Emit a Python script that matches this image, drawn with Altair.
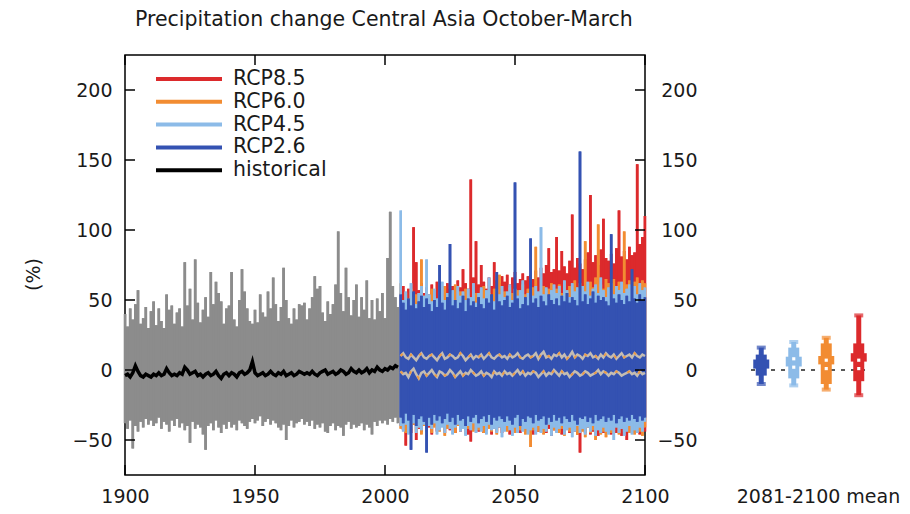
import altair as alt
import pandas as pd

FONT = "DejaVu Sans"
TXT = "#1a1a1a"

title_text = "Precipitation change Central Asia October-March"
y_title = "(%)"
side_title = "2081-2100 mean"

x_ticks = [1900, 1950, 2000, 2050, 2100]
y_ticks = [-50, 0, 50, 100, 150, 200]

# ---------------- historical ensemble (1900-2005) ----------------
hist_years = list(range(1900, 2006))
hist_hi = [40, 31, 44, 36, 47, 57, 33, 37, 45, 30,
           42, 49, 32, 44, 35, 30, 54, 43, 46, 33,
           41, 44, 31, 77, 46, 58, 36, 79, 48, 34,
           43, 52, 38, 70, 47, 63, 55, 49, 33, 44,
           46, 70, 36, 31, 50, 72, 56, 44, 35, 33,
           43, 34, 54, 41, 38, 56, 44, 66, 47, 35,
           45, 73, 50, 37, 33, 44, 36, 47, 46, 48,
           36, 44, 52, 67, 58, 60, 41, 35, 49, 40,
           47, 61, 99, 55, 42, 73, 52, 39, 50, 61,
           38, 52, 43, 64, 37, 50, 36, 51, 42, 55,
           37, 80, 113, 60, 52, 45]
hist_lo = [-38, -42, -36, -56, -40, -44, -37, -41, -35, -39,
           -36, -40, -38, -34, -42, -37, -39, -44, -36, -40,
           -35, -41, -38, -43, -40, -52, -37, -42, -39, -41,
           -46, -57, -40, -38, -43, -36, -41, -45, -39, -42,
           -37, -41, -39, -43, -36, -38, -40, -42, -37, -35,
           -38, -36, -33, -40, -37, -35, -39, -36, -38, -41,
           -43, -39, -50, -40, -36, -41, -38, -37, -35, -39,
           -37, -40, -36, -42, -39, -41, -38, -44, -45, -40,
           -38, -43, -40, -41, -47, -39, -37, -42, -39, -41,
           -40, -38, -43, -39, -41, -46, -37, -40, -36, -38,
           -36, -39, -35, -37, -34, -38]
hist_mean = [-4, -3, -5, -2, 3, -1, -4, -5, -3, -4,
             -5, -3, -4, -2, -4, -3, 1, -2, -4, -3,
             -4, -2, -3, 2, 0, -3, -2, -1, -4, -3,
             -5, -3, -2, -4, -3, -1, -4, -6, -3, -2,
             -4, -2, -3, -5, -2, -1, -3, -2, 0, 6,
             -2, -4, -3, -2, -4, -3, -1, -3, -4, -2,
             -3, -1, -4, -3, -2, -4, -3, -1, -2, -3,
             -2, -3, -1, -3, -4, -2, -1, 0, -3, -2,
             -1, -3, -2, 0, -1, -3, -2, 1, -1, -2,
             0, -2, -1, 1, -2, 0, -1, 2, 0, -1,
             1, 0, 2, 1, 3, 2]

# ---------------- scenario ensembles (2006-2100) ----------------
fut_years = list(range(2006, 2101))
rcp85_hi = [55, 60, 52, 58, 54, 102, 77, 57, 62, 55,
            59, 54, 61, 57, 63, 56, 60, 55, 62, 58,
            60, 57, 64, 59, 72, 62, 58, 136, 66, 92,
            61, 75, 63, 58, 66, 60, 77, 64, 62, 67,
            63, 68, 61, 66, 70, 62, 65, 69, 64, 67,
            68, 65, 71, 66, 73, 69, 75, 87, 70, 72,
            95, 71, 85, 74, 69, 78, 111, 73, 80, 76,
            72, 79, 84, 125, 77, 82, 75, 86, 108, 80,
            78, 83, 76, 87, 114, 81, 85, 79, 88, 82,
            84, 147, 90, 95, 110]
rcp85_lo = [-40, -43, -54, -41, -45, -39, -50, -42, -44, -40,
            -43, -41, -46, -40, -44, -42, -39, -45, -41, -43,
            -42, -45, -40, -44, -41, -43, -46, -51, -42, -40,
            -44, -41, -45, -43, -40, -46, -42, -44, -41, -45,
            -43, -40, -46, -42, -44, -41, -45, -43, -40, -44,
            -42, -46, -41, -44, -43, -40, -45, -42, -47, -43,
            -44, -41, -46, -43, -42, -45, -40, -44, -46, -59,
            -43, -45, -41, -46, -44, -42, -47, -43, -45, -41,
            -44, -46, -42, -45, -43, -47, -41, -50, -44, -42,
            -45, -43, -46, -42, -44]
rcp60_hi = [62, 48, 55, 51, 58, 50, 54, 49, 79, 53,
            56, 50, 58, 53, 49, 57, 52, 60, 51, 55,
            54, 61, 50, 56, 52, 58, 53, 49, 57, 55,
            52, 57, 60, 51, 55, 53, 58, 50, 68, 54,
            56, 52, 59, 55, 50, 57, 53, 61, 54, 58,
            55, 59, 88, 53, 57, 60, 54, 58, 62, 56,
            58, 61, 55, 63, 57, 60, 56, 64, 59, 62,
            60, 92, 57, 63, 59, 66, 104, 61, 58, 65,
            62, 59, 65, 60, 63, 58, 99, 61, 64, 60,
            63, 66, 60, 64, 62]
rcp60_lo = [-42, -38, -45, -40, -43, -39, -44, -41, -46, -40,
            -43, -39, -45, -41, -38, -44, -40, -47, -42, -39,
            -41, -45, -40, -43, -38, -46, -42, -39, -44, -41,
            -43, -40, -45, -38, -42, -44, -41, -46, -39, -43,
            -40, -44, -42, -38, -45, -41, -43, -40, -46, -42,
            -55, -43, -40, -44, -41, -46, -42, -39, -45, -43,
            -41, -45, -42, -47, -40, -44, -43, -41, -46, -42,
            -44, -48, -41, -45, -43, -50, -42, -46, -44, -48,
            -41, -45, -43, -40, -46, -42, -44, -41, -45, -43,
            -46, -42, -44, -47, -41]
rcp45_hi = [114, 50, 56, 48, 62, 52, 47, 55, 60, 53,
            79, 54, 49, 58, 51, 56, 63, 50, 55, 52,
            57, 49, 60, 53, 56, 50, 58, 52, 62, 48,
            55, 59, 51, 57, 66, 53, 49, 58, 54, 60,
            52, 56, 61, 50, 58, 53, 57, 64, 51, 55,
            58, 53, 60, 56, 102, 54, 59, 52, 57, 61,
            55, 60, 53, 64, 57, 52, 62, 56, 59, 54,
            60, 56, 63, 53, 58, 61, 55, 66, 57, 52,
            59, 62, 54, 60, 57, 63, 55, 58, 61, 56,
            60, 54, 62, 57, 59]
rcp45_lo = [-40, -44, -39, -46, -42, -38, -45, -41, -43, -39,
            -44, -40, -42, -38, -46, -43, -41, -45, -39, -42,
            -46, -41, -39, -44, -42, -47, -40, -43, -38, -45,
            -41, -44, -40, -46, -39, -43, -42, -45, -41, -48,
            -44, -40, -43, -47, -41, -45, -39, -44, -42, -46,
            -43, -41, -46, -40, -45, -42, -44, -39, -47, -41,
            -45, -42, -40, -46, -43, -41, -48, -44, -40, -45,
            -42, -46, -41, -44, -40, -47, -43, -45, -41, -44,
            -46, -43, -50, -41, -45, -42, -47, -44, -40, -46,
            -43, -45, -41, -44, -37]
rcp26_hi = [54, 48, 43, 51, 46, 56, 44, 49, 53, 45,
            51, 47, 42, 50, 45, 75, 48, 43, 52, 90,
            46, 50, 44, 48, 53, 42, 51, 46, 49, 45,
            52, 47, 44, 51, 48, 54, 43, 70, 49, 46,
            50, 53, 45, 48, 134, 51, 44, 47, 52, 46,
            94, 48, 51, 45, 53, 49, 46, 54, 50, 47,
            51, 46, 53, 49, 55, 48, 52, 50, 46, 156,
            49, 54, 47, 51, 56, 48, 53, 50, 52, 49,
            46, 97, 51, 48, 54, 50, 47, 53, 49, 72,
            51, 48, 54, 50, 52]
rcp26_lo = [-34, -38, -31, -36, -57, -32, -40, -35, -33, -37,
            -59, -34, -39, -32, -36, -33, -38, -35, -31, -37,
            -34, -39, -32, -36, -35, -40, -33, -37, -34, -32,
            -38, -35, -33, -37, -32, -39, -34, -36, -33, -35,
            -37, -33, -36, -39, -34, -32, -40, -35, -37, -33,
            -34, -38, -32, -36, -35, -33, -39, -34, -37, -32,
            -36, -34, -38, -33, -35, -37, -32, -36, -39, -34,
            -35, -33, -37, -34, -38, -32, -36, -35, -33, -37,
            -34, -36, -32, -38, -35, -33, -37, -34, -36, -32,
            -35, -37, -33, -36, -34]
mean_upper = [10, 12, 9, 8, 11, 9, 7, 10, 12, 9,
              8, 10, 11, 9, 7, 10, 12, 8, 9, 11,
              10, 8, 9, 12, 10, 7, 9, 11, 8, 10,
              9, 11, 8, 10, 12, 9, 8, 10, 11, 9,
              10, 8, 11, 9, 10, 12, 9, 8, 10, 11,
              9, 10, 12, 8, 11, 13, 9, 10, 8, 11,
              10, 12, 9, 11, 8, 10, 13, 9, 11, 10,
              8, 11, 10, 12, 9, 10, 8, 11, 9, 12,
              10, 9, 11, 8, 10, 12, 9, 10, 11, 9,
              12, 10, 9, 11, 10]
mean_lower = [-1, -3, -2, -5, -1, 1, -3, -6, -2, -1,
              -4, -2, 0, -3, -5, -1, -2, -4, -3, 0,
              -2, -5, -3, -1, -4, -2, -3, 0, -2, -4,
              -3, -1, -4, -2, -3, -5, -1, -3, -2, -4,
              -1, -3, -2, -4, -2, 0, -3, -1, -4, -2,
              -3, -1, -2, -5, -3, -1, -4, -2, -3, 0,
              -2, -4, -1, -3, -2, -5, -3, -1, -2, -4,
              -3, -1, -2, -4, -3, -2, 0, -3, -1, -2,
              -4, -2, -3, -1, -2, -4, -3, -2, -1, -3,
              -2, -4, -1, -3, -2]

scenarios = ["RCP8.5", "RCP6.0", "RCP4.5", "RCP2.6", "historical"]
scen_colors = ["#dc2a2c", "#f28c32", "#8cbbe8", "#3452b2", "#000000"]
hist_gray = "#8c8c8c"

# ---------------- 2081-2100 mean boxes ----------------
box_scen = ["RCP2.6", "RCP4.5", "RCP6.0", "RCP8.5"]
box_colors = ["#2d4a9e", "#7fb0e0", "#f08a24", "#e3202a"]
whisk_lo = [-10, -11, -14, -18]
whisk_hi = [16, 20, 23, 39]
box_lo = [-4, -6, -10, -8]
box_hi = [11, 16, 19, 19]
wide_lo = [1, 2.5, 4, 6]
wide_hi = [7.5, 9.5, 10, 12]
dot_scen = ["RCP4.5", "RCP4.5", "RCP6.0", "RCP6.0", "RCP8.5", "RCP8.5"]
dot_val = [8, 2, 7, 1, 7, 1]

# ---------------- data frames ----------------
hist_df = pd.DataFrame({"year": hist_years, "hi": hist_hi, "lo": hist_lo,
                        "mean": hist_mean, "scenario": "historical"})


def fut_df(name, hi, lo):
    return pd.DataFrame({"year": fut_years, "hi": hi, "lo": lo, "scenario": name})


fut = [fut_df("RCP8.5", rcp85_hi, rcp85_lo), fut_df("RCP6.0", rcp60_hi, rcp60_lo),
       fut_df("RCP4.5", rcp45_hi, rcp45_lo), fut_df("RCP2.6", rcp26_hi, rcp26_lo)]
mean_df = pd.DataFrame({"year": fut_years + fut_years,
                        "val": mean_upper + mean_lower,
                        "which": ["upper"] * len(fut_years) + ["lower"] * len(fut_years)})

W, H = 520, 420
SW = 2.6
x_scale = alt.Scale(domain=[1900, 2100], nice=False, zero=False)
y_scale = alt.Scale(domain=[-75, 225], nice=False, zero=False)
color_scale = alt.Scale(domain=scenarios, range=scen_colors)

legend = alt.Legend(orient="none", legendX=29, legendY=14, symbolType="stroke",
                    symbolSize=4356, symbolStrokeWidth=4, clipHeight=20,
                    labelFont=FONT, labelFontSize=20.5, labelOffset=9,
                    labelColor=TXT, rowPadding=1.8, padding=0, title=None)

x_axis = alt.Axis(values=x_ticks, format="d", labelFont=FONT, labelFontSize=19,
                  labelColor=TXT, labelPadding=12, labelFlush=False, ticks=False,
                  tickSize=0, domain=False, grid=False, title=None)
y_axis = alt.Axis(values=y_ticks, labelFont=FONT, labelFontSize=19, labelColor=TXT,
                  labelPadding=13, ticks=False, tickSize=0, domain=False, grid=False,
                  title=y_title, titleFont=FONT, titleFontSize=19, titleFontWeight="normal",
                  titleColor=TXT, titleAngle=270, titleX=-92, titleY=219,
                  titleAlign="center", titleBaseline="middle")


def XQ(field):
    return alt.X(field, scale=x_scale, axis=x_axis, title=None)


def YQ(field):
    return alt.Y(field, scale=y_scale, axis=y_axis, title=y_title)


def band(df, col, with_legend):
    area = alt.Chart(df).mark_area(interpolate="step", color=col).encode(
        x=XQ("year:Q"), y=YQ("hi:Q"), y2="lo:Q")
    if with_legend:
        rule = alt.Chart(df).mark_rule(strokeWidth=SW).encode(
            x=XQ("year:Q"), y=YQ("hi:Q"), y2="lo:Q",
            color=alt.Color("scenario:N", scale=color_scale, legend=legend))
    else:
        rule = alt.Chart(df).mark_rule(strokeWidth=SW, color=col).encode(
            x=XQ("year:Q"), y=YQ("hi:Q"), y2="lo:Q")
    return [area, rule]


layers = band(hist_df, hist_gray, False)
for d, c in zip(fut, scen_colors[:4]):
    layers += band(d, c, True)

mean_gray = alt.Chart(mean_df).mark_line(strokeWidth=2.5, color="#c4bcb3").encode(
    x=XQ("year:Q"), y=YQ("val:Q"), detail="which:N")
mean_orange = alt.Chart(mean_df).mark_line(strokeWidth=2, color="#eb9a45",
                                            strokeDash=[3, 12]).encode(
    x=XQ("year:Q"), y=YQ("val:Q"), detail="which:N")

hist_mean_layer = alt.Chart(hist_df).mark_line(strokeWidth=3.5).encode(
    x=XQ("year:Q"), y=YQ("mean:Q"),
    color=alt.Color("scenario:N", scale=color_scale, legend=legend))

ytick_df = pd.DataFrame({"v": y_ticks})
xtick_df = pd.DataFrame({"v": x_ticks})
tick_layers = [
    alt.Chart(ytick_df).mark_rule(color="black", strokeWidth=1.5).encode(
        y=YQ("v:Q"), x=alt.value(0), x2=alt.value(10)),
    alt.Chart(ytick_df).mark_rule(color="black", strokeWidth=1.5).encode(
        y=YQ("v:Q"), x=alt.value(W - 10), x2=alt.value(W)),
    alt.Chart(xtick_df).mark_rule(color="black", strokeWidth=1.5).encode(
        x=XQ("v:Q"), y=alt.value(H - 10), y2=alt.value(H)),
    alt.Chart(xtick_df).mark_rule(color="black", strokeWidth=1.5).encode(
        x=XQ("v:Q"), y=alt.value(0), y2=alt.value(10)),
]

main = alt.layer(*layers, mean_gray, mean_orange, hist_mean_layer,
                 *tick_layers).properties(
    width=W, height=H, view=alt.ViewBackground(stroke="black", strokeWidth=1.5))

# ---------------- side panel ----------------
side_df = pd.DataFrame({"scen": box_scen, "wlo": whisk_lo, "whi": whisk_hi,
                        "blo": box_lo, "bhi": box_hi, "mlo": wide_lo, "mhi": wide_hi})
dot_df = pd.DataFrame({"scen": dot_scen, "v": dot_val})
zero_df = pd.DataFrame({"v": [0]})

sx_scale = alt.Scale(domain=box_scen, paddingInner=0, paddingOuter=0)
side_x_axis = alt.Axis(labels=False, ticks=False, tickSize=0, domain=False, grid=False,
                       title=side_title, titleFont=FONT, titleFontSize=19,
                       titleFontWeight="normal", titleColor=TXT, titlePadding=12,
                       titleX=73)
side_y_axis = alt.Axis(values=y_ticks, labelFont=FONT, labelFontSize=19, labelColor=TXT,
                       labelPadding=48, ticks=False, tickSize=0, domain=False,
                       grid=False, title=None)


def SX():
    return alt.X("scen:N", scale=sx_scale, axis=side_x_axis, title=side_title)


def SY(field):
    return alt.Y(field, scale=y_scale, axis=side_y_axis, title=None)


SC = alt.Color("scen:N", scale=alt.Scale(domain=box_scen, range=box_colors), legend=None)

zero_line = alt.Chart(zero_df).mark_rule(color="#222222", strokeWidth=1.5,
                                         strokeDash=[4, 6]).encode(
    y=SY("v:Q"), x=alt.value(6), x2=alt.value(120))
stem = alt.Chart(side_df).mark_bar(size=5).encode(
    x=SX(), y=SY("wlo:Q"), y2="whi:Q", color=SC)
cap_lo = alt.Chart(side_df).mark_tick(size=9, thickness=4).encode(
    x=SX(), y=SY("wlo:Q"), color=SC)
cap_hi = alt.Chart(side_df).mark_tick(size=9, thickness=4).encode(
    x=SX(), y=SY("whi:Q"), color=SC)
box = alt.Chart(side_df).mark_bar(size=11).encode(
    x=SX(), y=SY("blo:Q"), y2="bhi:Q", color=SC)
wide = alt.Chart(side_df).mark_bar(size=16).encode(
    x=SX(), y=SY("mlo:Q"), y2="mhi:Q", color=SC)
dots = alt.Chart(dot_df).mark_square(size=10, color="white", opacity=1).encode(
    x=SX(), y=SY("v:Q"))

side = alt.layer(zero_line, stem, cap_lo, cap_hi, box, wide, dots).properties(
    width=130, height=H, view=alt.ViewBackground(strokeWidth=0))

chart = alt.hconcat(main, side, spacing=100, bounds="flush").properties(
    title=alt.TitleParams(text=title_text, font=FONT, fontSize=20.5, fontWeight="normal",
                          color=TXT, anchor="start", frame="group", dx=10,
                          baseline="alphabetic", offset=7),
    padding={"left": 23, "top": 10, "right": 5, "bottom": 5})

chart.save("out.html", embed_options={"renderer": "svg", "actions": False})
